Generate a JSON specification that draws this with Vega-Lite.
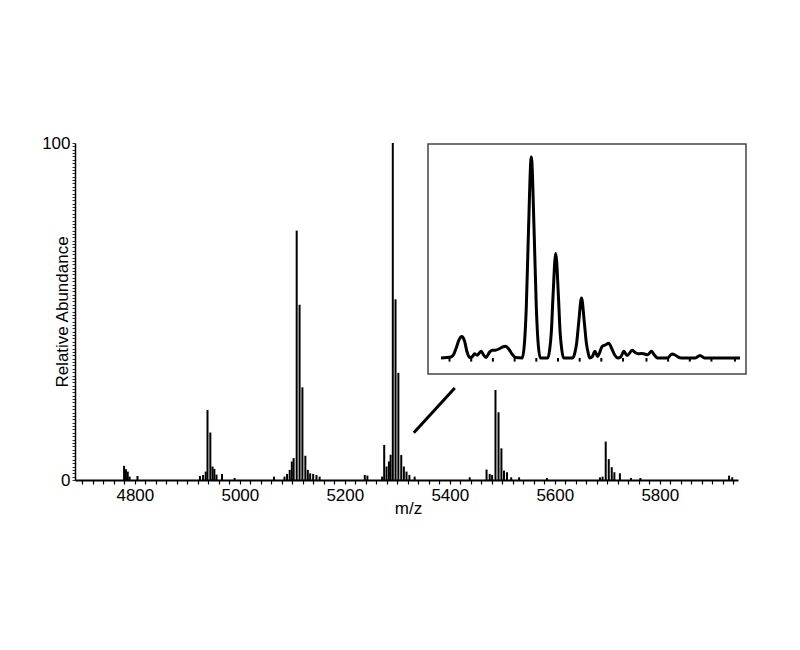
{
  "$schema": "https://vega.github.io/schema/vega-lite/v6.json",
  "autosize": {"type": "none"},
  "padding": {"left": 75, "top": 143, "right": 62, "bottom": 170},
  "width": 663,
  "height": 337,
  "background": "white",
  "config": {
    "view": {"stroke": null},
    "font": "Liberation Sans",
    "axis": {"grid": false, "domainColor": "black", "tickColor": "black", "labelColor": "black", "titleColor": "black", "labelFont": "Liberation Sans", "titleFont": "Liberation Sans", "titleFontWeight": "normal", "labelFontSize": 17, "titleFontSize": 17}
  },
  "datasets": {
    "main": [
      {"mz": 4779.5, "ab": 4.2}, {"mz": 4783, "ab": 3.2}, {"mz": 4786.5, "ab": 2.5}, {"mz": 4790, "ab": 1.0}, {"mz": 4805, "ab": 1.2},
      {"mz": 4924, "ab": 1.2}, {"mz": 4930, "ab": 1.5}, {"mz": 4935, "ab": 2.5}, {"mz": 4938.4, "ab": 20.8}, {"mz": 4943.8, "ab": 14.1}, {"mz": 4948, "ab": 4.0}, {"mz": 4951.5, "ab": 3.3}, {"mz": 4955.6, "ab": 1.6}, {"mz": 4966, "ab": 1.8},
      {"mz": 4990, "ab": 0.6}, {"mz": 5065, "ab": 1.0},
      {"mz": 5085, "ab": 1.0}, {"mz": 5090, "ab": 1.8}, {"mz": 5095, "ab": 3.0}, {"mz": 5099, "ab": 5.5}, {"mz": 5102.5, "ab": 6.5}, {"mz": 5108.3, "ab": 74}, {"mz": 5113.8, "ab": 52}, {"mz": 5119.2, "ab": 27.5}, {"mz": 5124.8, "ab": 7.2}, {"mz": 5129.5, "ab": 3.0}, {"mz": 5134, "ab": 2.0}, {"mz": 5139.7, "ab": 1.8}, {"mz": 5146, "ab": 1.5}, {"mz": 5152, "ab": 1.0},
      {"mz": 5238, "ab": 1.5}, {"mz": 5243, "ab": 1.3},
      {"mz": 5271, "ab": 1.0}, {"mz": 5275, "ab": 10.4}, {"mz": 5279.5, "ab": 4.0}, {"mz": 5284, "ab": 5.5}, {"mz": 5287.2, "ab": 7.5}, {"mz": 5291.4, "ab": 100}, {"mz": 5296.6, "ab": 53.6}, {"mz": 5302, "ab": 31.8}, {"mz": 5307.5, "ab": 7.4}, {"mz": 5312.5, "ab": 4.0}, {"mz": 5317.5, "ab": 2.5}, {"mz": 5323, "ab": 1.5}, {"mz": 5333, "ab": 1.0},
      {"mz": 5438, "ab": 0.8}, {"mz": 5470, "ab": 3.1}, {"mz": 5476, "ab": 1.8}, {"mz": 5480.6, "ab": 1.5}, {"mz": 5487, "ab": 26.7}, {"mz": 5492.8, "ab": 20.1}, {"mz": 5498.3, "ab": 9.4}, {"mz": 5503.2, "ab": 2.8}, {"mz": 5509, "ab": 2.3}, {"mz": 5517, "ab": 0.8}, {"mz": 5532, "ab": 0.8},
      {"mz": 5585, "ab": 0.6},
      {"mz": 5686, "ab": 0.8}, {"mz": 5691, "ab": 1.0}, {"mz": 5697, "ab": 11.4}, {"mz": 5702.8, "ab": 6.2}, {"mz": 5708.5, "ab": 3.8}, {"mz": 5713.5, "ab": 2.3}, {"mz": 5724, "ab": 2.0}, {"mz": 5745, "ab": 0.6}, {"mz": 5763, "ab": 0.6},
      {"mz": 5932, "ab": 1.3}, {"mz": 5938, "ab": 0.8}
    ],
    "connector": [{"mz": 5331.4, "mz2": 5409.5, "ab": 14.0, "ab2": 27.3}],
    "insetBox": [{"x1": 5268.98, "x2": 5338.0, "y1": -8.0, "y2": 106.5}],
    "insetTicks": [{"mz": 5273.65}, {"mz": 5278.36}, {"mz": 5283.07}, {"mz": 5287.78}, {"mz": 5292.49}, {"mz": 5297.2}, {"mz": 5301.9}, {"mz": 5306.6}, {"mz": 5311.3}, {"mz": 5316.4}, {"mz": 5321.1}, {"mz": 5325.8}, {"mz": 5330.5}, {"mz": 5335.6}],
    "inset": [
      {"mz": 5271.8, "ab": 0}, {"mz": 5274.0, "ab": 0.5}, {"mz": 5274.6, "ab": 2}, {"mz": 5275.1, "ab": 5}, {"mz": 5275.7, "ab": 9}, {"mz": 5276.3, "ab": 10.7}, {"mz": 5276.9, "ab": 8.5}, {"mz": 5277.4, "ab": 3.5}, {"mz": 5278.0, "ab": 0.3},
      {"mz": 5278.5, "ab": 0.5}, {"mz": 5279.1, "ab": 2.1}, {"mz": 5279.6, "ab": 1.4}, {"mz": 5280.5, "ab": 3.3}, {"mz": 5281.2, "ab": 1.0}, {"mz": 5281.6, "ab": 0.3}, {"mz": 5282.3, "ab": 2.8}, {"mz": 5282.9, "ab": 3.8}, {"mz": 5283.6, "ab": 3.9}, {"mz": 5284.5, "ab": 4.6}, {"mz": 5285.3, "ab": 5.6}, {"mz": 5285.8, "ab": 5.8}, {"mz": 5286.5, "ab": 4.5}, {"mz": 5287.2, "ab": 2.0}, {"mz": 5288.0, "ab": 0.2},
      {"mz": 5289.44, "ab": 0}, {"mz": 5289.95, "ab": 8.5}, {"mz": 5290.31, "ab": 25}, {"mz": 5290.75, "ab": 60}, {"mz": 5291.4, "ab": 100}, {"mz": 5292.05, "ab": 60}, {"mz": 5292.49, "ab": 25}, {"mz": 5292.85, "ab": 8.5}, {"mz": 5293.36, "ab": 0},
      {"mz": 5295.0, "ab": 0}, {"mz": 5295.4, "ab": 4.4}, {"mz": 5295.75, "ab": 13}, {"mz": 5296.12, "ab": 31}, {"mz": 5296.7, "ab": 52}, {"mz": 5297.28, "ab": 31}, {"mz": 5297.65, "ab": 13}, {"mz": 5298.0, "ab": 4.4}, {"mz": 5298.4, "ab": 0},
      {"mz": 5300.4, "ab": 0}, {"mz": 5300.85, "ab": 2.5}, {"mz": 5301.25, "ab": 7.5}, {"mz": 5301.7, "ab": 18}, {"mz": 5302.3, "ab": 29.8}, {"mz": 5302.9, "ab": 18}, {"mz": 5303.35, "ab": 7.5}, {"mz": 5303.75, "ab": 2.5}, {"mz": 5304.1, "ab": 0},
      {"mz": 5304.6, "ab": 0.5}, {"mz": 5305.2, "ab": 3.3}, {"mz": 5305.8, "ab": 0.8}, {"mz": 5306.8, "ab": 5.8}, {"mz": 5307.5, "ab": 6.5}, {"mz": 5308.2, "ab": 7.4}, {"mz": 5308.8, "ab": 5}, {"mz": 5309.5, "ab": 1.5}, {"mz": 5310.2, "ab": 0},
      {"mz": 5310.8, "ab": 0.5}, {"mz": 5311.5, "ab": 3.3}, {"mz": 5312.2, "ab": 1.2}, {"mz": 5313.3, "ab": 3.8}, {"mz": 5314.0, "ab": 2.6}, {"mz": 5314.6, "ab": 2.1}, {"mz": 5315.2, "ab": 2.2}, {"mz": 5315.8, "ab": 2.1}, {"mz": 5316.6, "ab": 1.6}, {"mz": 5317.5, "ab": 3.3}, {"mz": 5318.2, "ab": 1.2}, {"mz": 5318.8, "ab": 0},
      {"mz": 5321.0, "ab": 0}, {"mz": 5321.9, "ab": 2.0}, {"mz": 5322.6, "ab": 1.5}, {"mz": 5323.2, "ab": 0.6}, {"mz": 5324.0, "ab": 0},
      {"mz": 5327.0, "ab": 0}, {"mz": 5328.0, "ab": 1.3}, {"mz": 5329.0, "ab": 0}, {"mz": 5336.7, "ab": 0}
    ]
  },
  "layer": [
    {
      "data": {"name": "main"},
      "mark": {"type": "rule", "color": "black", "strokeWidth": 2},
      "encoding": {
        "x": {
          "field": "mz", "type": "quantitative",
          "scale": {"domain": [4686, 5949], "nice": false, "zero": false},
          "axis": {
            "title": "m/z",
            "values": [4700,4720,4740,4760,4780,4800,4820,4840,4860,4880,4900,4920,4940,4960,4980,5000,5020,5040,5060,5080,5100,5120,5140,5160,5180,5200,5220,5240,5260,5280,5300,5320,5340,5360,5380,5400,5420,5440,5460,5480,5500,5520,5540,5560,5580,5600,5620,5640,5660,5680,5700,5720,5740,5760,5780,5800,5820,5840,5860,5880,5900,5920,5940],
            "format": "d",
            "labelExpr": "datum.value % 200 == 0 ? datum.label : ''",
            "labelOverlap": false,
            "labelFlush": false,
            "tickSize": 4,
            "tickWidth": 1.2,
            "labelPadding": 3,
            "domainWidth": 2,
            "titleX": 333,
            "titleY": 33,
            "titleAlign": "center",
            "titleBaseline": "alphabetic",
            "titleFontSize": 17
          }
        },
        "y": {
          "field": "ab", "type": "quantitative",
          "scale": {"domain": [0, 100], "nice": false, "zero": true},
          "axis": {
            "title": "Relative Abundance",
            "values": [0,1,2,3,4,5,6,7,8,9,10,11,12,13,14,15,16,17,18,19,20,21,22,23,24,25,26,27,28,29,30,31,32,33,34,35,36,37,38,39,40,41,42,43,44,45,46,47,48,49,50,51,52,53,54,55,56,57,58,59,60,61,62,63,64,65,66,67,68,69,70,71,72,73,74,75,76,77,78,79,80,81,82,83,84,85,86,87,88,89,90,91,92,93,94,95,96,97,98,99,100],
            "labelExpr": "datum.value == 0 || datum.value == 100 ? datum.label : ''",
            "labelOverlap": false,
            "labelFlush": false,
            "tickSize": 3,
            "tickWidth": 0.8,
            "labelPadding": 2,
            "domainWidth": 1.5,
            "titleX": -8,
            "titleY": 168.5,
            "titleAngle": 270,
            "titleAlign": "center",
            "titleBaseline": "alphabetic"
          }
        },
        "y2": {"datum": 0}
      }
    },
    {
      "data": {"name": "connector"},
      "mark": {"type": "rule", "color": "black", "strokeWidth": 3},
      "encoding": {
        "x": {"field": "mz", "type": "quantitative", "axis": null, "scale": {"domain": [4686, 5949], "nice": false, "zero": false}},
        "x2": {"field": "mz2"},
        "y": {"field": "ab", "type": "quantitative", "axis": null, "scale": {"domain": [0, 100], "nice": false, "zero": true}},
        "y2": {"field": "ab2"}
      }
    },
    {
      "layer": [
        {
          "data": {"name": "insetBox"},
          "mark": {"type": "rect", "fill": "white", "stroke": "#444444", "strokeWidth": 1.5},
          "encoding": {
            "x": {"field": "x1", "type": "quantitative", "axis": null, "scale": {"domain": [5271.8, 5336.7], "range": [366, 665], "nice": false, "zero": false}},
            "x2": {"field": "x2"},
            "y": {"field": "y1", "type": "quantitative", "axis": null, "scale": {"domain": [0, 100], "range": [215, 14], "nice": false, "zero": false}},
            "y2": {"field": "y2"}
          }
        },
        {
          "data": {"name": "insetTicks"},
          "mark": {"type": "rule", "color": "black", "strokeWidth": 2},
          "encoding": {
            "x": {"field": "mz", "type": "quantitative", "axis": null},
            "y": {"datum": 0, "type": "quantitative", "axis": null},
            "y2": {"datum": -1.8}
          }
        },
        {
          "data": {"name": "inset"},
          "mark": {"type": "line", "color": "black", "strokeWidth": 3, "interpolate": "monotone", "strokeJoin": "round"},
          "encoding": {
            "x": {"field": "mz", "type": "quantitative", "axis": null},
            "y": {"field": "ab", "type": "quantitative", "axis": null}
          }
        }
      ]
    }
  ],
  "resolve": {"scale": {"x": "independent", "y": "independent"}}
}
